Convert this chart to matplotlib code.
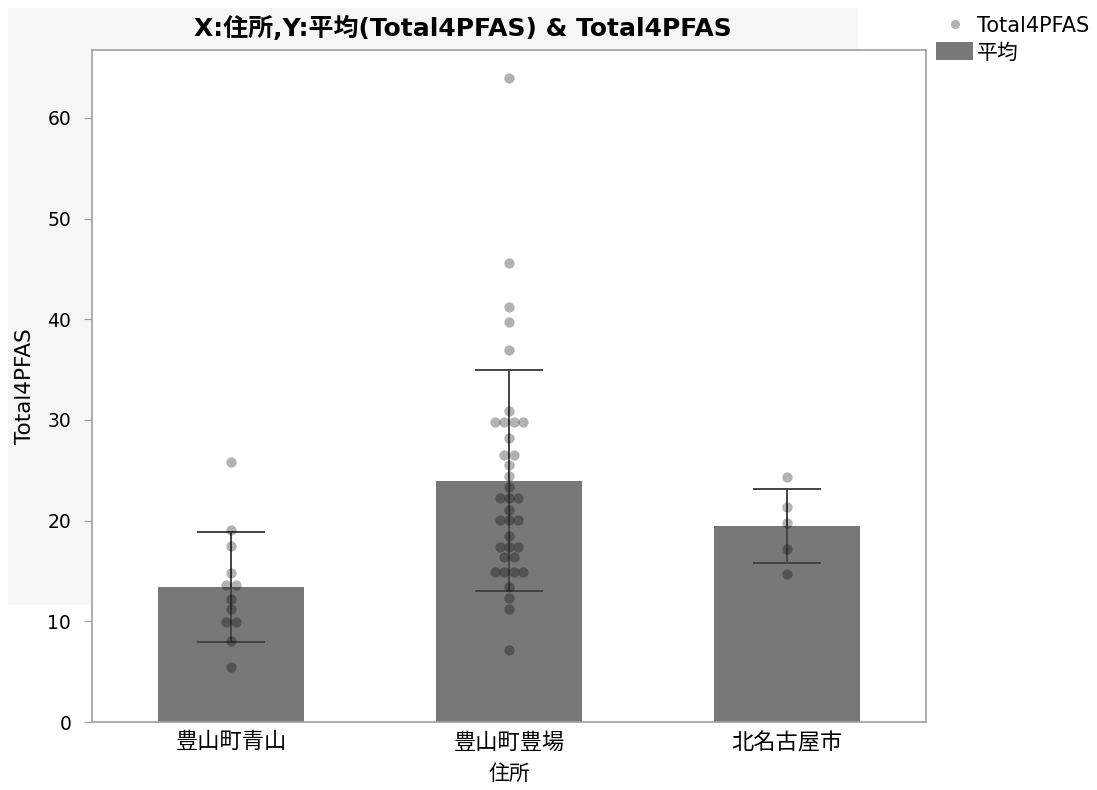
import numpy as np
import matplotlib.pyplot as plt
from matplotlib.patches import Rectangle, Patch
from matplotlib.lines import Line2D

plt.rcParams['font.family'] = ['DejaVu Sans', 'Noto Sans CJK JP']

# データ（住所ごとの Total4PFAS 値）
住所 = ["豊山町青山", "豊山町豊場", "北名古屋市"]
青山 = [25.8, 19.1, 17.5, 14.8, 13.6, 13.6, 12.25, 11.2, 9.9, 9.9, 8.05, 5.5]
豊場 = [64.0, 45.6, 41.25, 39.7, 36.95, 30.9, 29.83, 29.83, 29.83, 29.83,
        28.2, 26.5, 26.5, 25.5, 24.44, 23.3, 22.25, 22.25, 22.25, 21.06,
        20.07, 20.07, 20.07, 18.48, 17.42, 17.42, 17.42, 16.42, 16.42,
        14.9, 14.9, 14.9, 14.9, 13.38, 12.32, 11.26, 7.15]
北名古屋 = [24.3, 21.33, 19.8, 17.2, 14.7]
グループ = [青山, 豊場, 北名古屋]

fig = plt.figure(figsize=(10.97, 7.90), dpi=100)
W, H = 1097, 790

# 背景パネル
fig.patches.append(Rectangle((8 / W, 1 - 605 / H), 850 / W, 597 / H,
                             transform=fig.transFigure, facecolor="#f6f6f6",
                             edgecolor="none", zorder=0))

ax = fig.add_axes([92 / W, 68 / H, 834 / W, 672 / H])
ax.set_zorder(2)
ax.set_facecolor("white")

x = np.arange(len(住所))
平均 = [np.mean(g) for g in グループ]
標準偏差 = [np.std(g, ddof=1) for g in グループ]

ax.bar(x, 平均, width=0.525, color="#787878", zorder=2)
ax.errorbar(x, 平均, yerr=標準偏差, fmt="none", ecolor="#444444",
            elinewidth=1.4, capsize=24.8, capthick=1.4, zorder=3)

# 同じ値の点を横に並べる
間隔 = 0.0335
for i, g in enumerate(グループ):
    vals, counts = np.unique(g, return_counts=True)
    for v, n in zip(vals, counts):
        offs = (np.arange(n) - (n - 1) / 2) * 間隔
        ax.scatter(i + offs, [v] * n, s=55, color="black", alpha=0.3,
                   linewidths=0, zorder=4)

ax.set_xlim(-0.5, 2.5)
ax.set_ylim(0, 66.75)
ax.set_yticks(np.arange(0, 61, 10))
ax.set_xticks(x)
ax.set_xticklabels(住所, fontsize=16)
ax.tick_params(axis="y", labelsize=13.5, length=6, color="#999999", pad=9)
ax.tick_params(axis="x", length=0, pad=7)
for s in ax.spines.values():
    s.set_color("#a0a0a0")
    s.set_linewidth(1.2)

ax.set_ylabel("Total4PFAS", fontsize=15.5, labelpad=9)
ax.set_xlabel("住所", fontsize=15, labelpad=8)

fig.text(463 / W, 1 - 28 / H, "X:住所,Y:平均(Total4PFAS) & Total4PFAS",
         ha="center", va="center", fontsize=18, fontweight="bold")

handles = [Line2D([], [], marker="o", linestyle="none", color="#b3b3b3",
                  markersize=5.5),
           Patch(facecolor="#787878")]
fig.legend(handles, ["Total4PFAS", "平均"], loc="upper left",
           bbox_to_anchor=(936 / W, 1 - 16 / H), frameon=False, fontsize=15,
           handlelength=1.78, handleheight=0.95, handletextpad=0.2,
           borderpad=0, borderaxespad=0, labelspacing=0.3)

fig.savefig("out.png", dpi=100)
